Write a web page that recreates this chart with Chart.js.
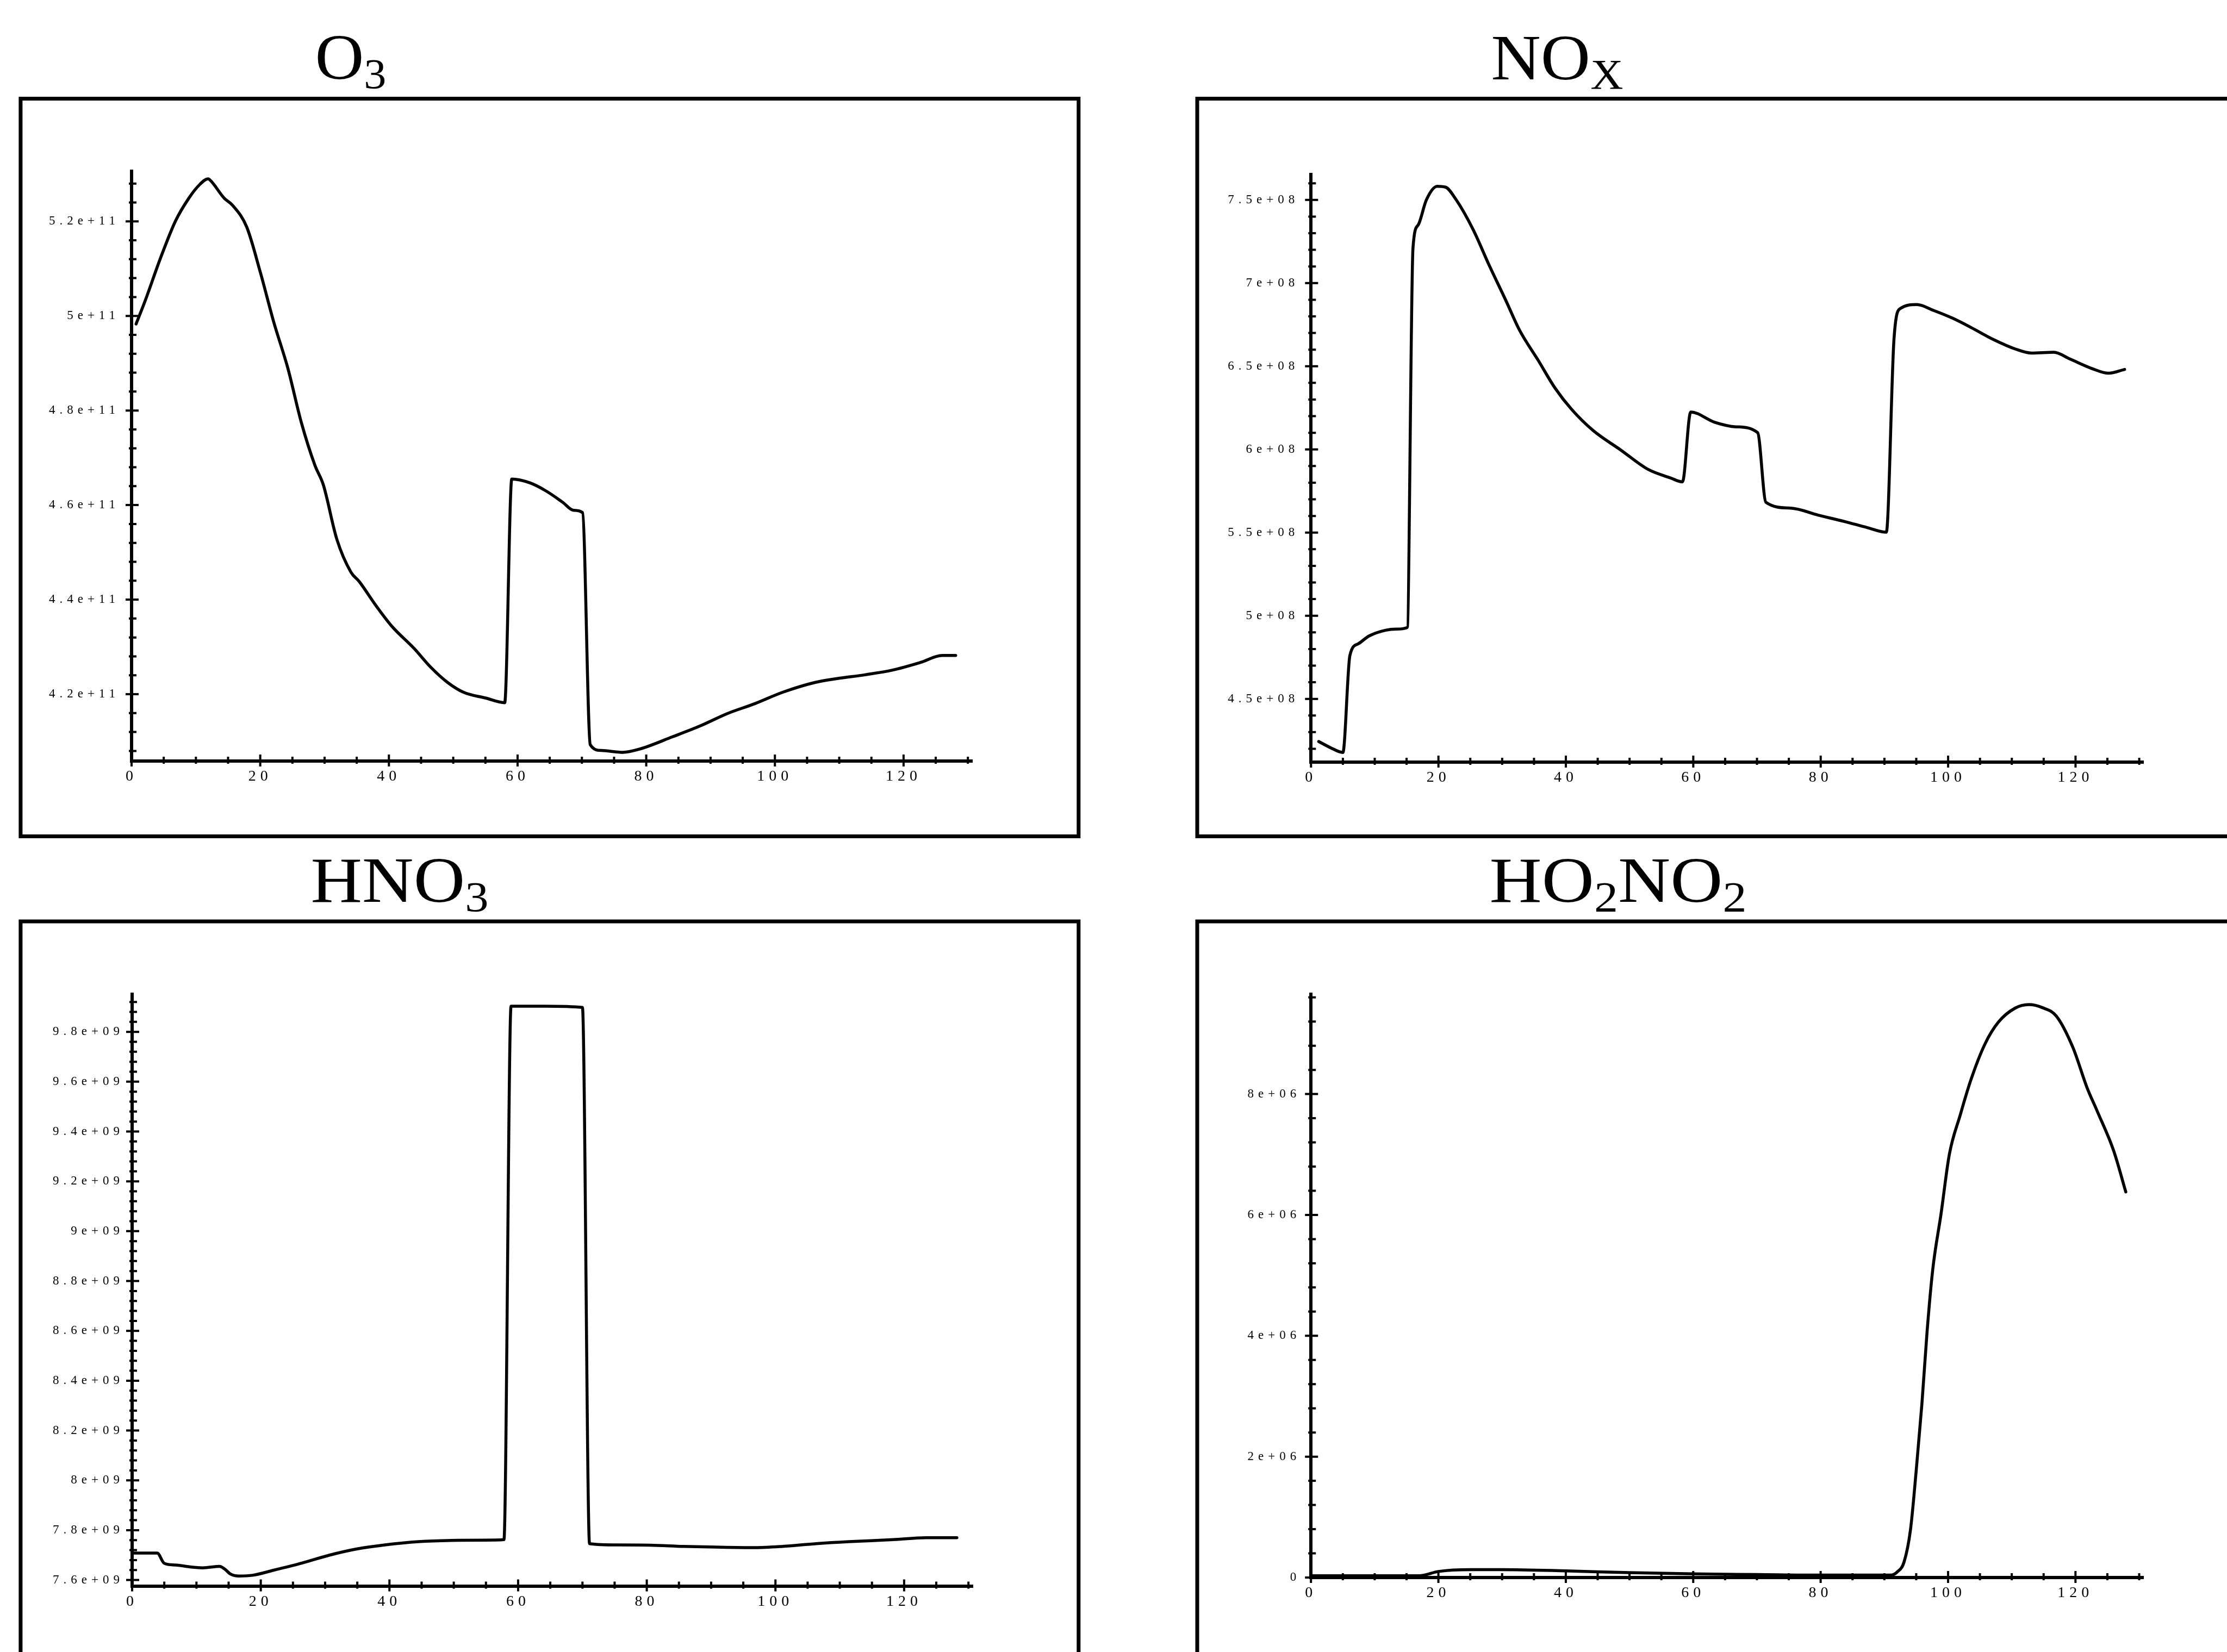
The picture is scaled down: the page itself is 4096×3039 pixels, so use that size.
<!DOCTYPE html>
<html><head><meta charset="utf-8">
<script src="https://cdn.jsdelivr.net/npm/chart.js@4.4.1/dist/chart.umd.min.js"></script>
<style>
html,body{margin:0;padding:0;background:#fff;}
#wrap{position:relative;width:4096px;height:3039px;overflow:hidden;background:#fff;}
canvas{position:absolute;}
</style></head><body><div id="wrap">
<canvas id="cO3"></canvas><canvas id="cNOX"></canvas><canvas id="cHNO3"></canvas><canvas id="cHO2NO2"></canvas>
</div>
<script>
// ---------- DATA ----------
const xTickValues = [0, 20, 40, 60, 80, 100, 120];
const xTickLabels = ['0', '20', '40', '60', '80', '100', '120'];

// O3
const o3X = [0.7, 2, 4.6, 6.8, 8.9, 10.6, 11.9, 12.3, 14.4, 15.7, 17.9, 20, 22.1, 24.3, 26.4, 28.5, 29.8, 31.9, 34.1, 35.4, 37.9, 40.5, 43.9, 46.5, 49.1, 51.6, 55, 58, 59.1, 61.9, 64.4, 67, 68.7, 70.1, 71.3, 73, 76.4, 79, 84.1, 88.4, 92.6, 96.9, 101.2, 106.3, 109.7, 114, 118.3, 122.6, 126, 128.1];
const o3Y = [4.983e11, 5.028e11, 5.126e11, 5.2e11, 5.249e11, 5.278e11, 5.29e11, 5.286e11, 5.249e11, 5.234e11, 5.188e11, 5.093e11, 4.987e11, 4.889e11, 4.774e11, 4.684e11, 4.643e11, 4.528e11, 4.458e11, 4.438e11, 4.389e11, 4.343e11, 4.297e11, 4.257e11, 4.225e11, 4.204e11, 4.192e11, 4.182e11, 4.655e11, 4.647e11, 4.63e11, 4.606e11, 4.589e11, 4.584e11, 4.093e11, 4.081e11, 4.077e11, 4.084e11, 4.11e11, 4.133e11, 4.159e11, 4.18e11, 4.204e11, 4.225e11, 4.233e11, 4.241e11, 4.251e11, 4.267e11, 4.282e11, 4.282e11];
const o3TickValues = [4.2e11, 4.4e11, 4.6e11, 4.8e11, 5e11, 5.2e11];
const o3TickLabels = ['4.2e+11', '4.4e+11', '4.6e+11', '4.8e+11', '5e+11', '5.2e+11'];

// NOx
const noxX = [1.2, 3.1, 5.0, 6.1, 7.4, 9.1, 11.7, 13.4, 15.1, 16.0, 16.8, 18.1, 19.8, 21.1, 22.8, 25.4, 28, 30.6, 32.7, 35.7, 38.3, 40.9, 44.3, 48.6, 52.9, 56.4, 58.3, 59.6, 63.3, 66.7, 70.1, 71.4, 75.3, 79.6, 83.9, 87.3, 90.3, 91.5, 92.5, 95.1, 97.7, 100.7, 103.7, 107.1, 110.6, 113.1, 116.6, 119.1, 122.6, 125.2, 127.7];
const noxY = [4.244e8, 4.206e8, 4.178e8, 4.761e8, 4.831e8, 4.878e8, 4.913e8, 4.92e8, 4.929e8, 7.209e8, 7.348e8, 7.5e8, 7.582e8, 7.577e8, 7.5e8, 7.325e8, 7.104e8, 6.894e8, 6.719e8, 6.533e8, 6.369e8, 6.241e8, 6.113e8, 5.997e8, 5.88e8, 5.829e8, 5.805e8, 6.225e8, 6.164e8, 6.136e8, 6.101e8, 5.682e8, 5.647e8, 5.605e8, 5.565e8, 5.53e8, 5.502e8, 6.661e8, 6.847e8, 6.871e8, 6.836e8, 6.789e8, 6.731e8, 6.661e8, 6.603e8, 6.579e8, 6.584e8, 6.544e8, 6.486e8, 6.458e8, 6.481e8];
const noxTickValues = [4.5e8, 5e8, 5.5e8, 6e8, 6.5e8, 7e8, 7.5e8];
const noxTickLabels = ['4.5e+08', '5e+08', '5.5e+08', '6e+08', '6.5e+08', '7e+08', '7.5e+08'];

// HNO3
const hno3X = [0.3, 3.9, 5.0, 6.7, 11, 13.6, 14.4, 15.3, 16.6, 18.7, 22.1, 26.4, 30.7, 35, 39.3, 44.5, 49.6, 54.8, 57.8, 58.9, 64.2, 70, 71.1, 75.4, 80.5, 85.7, 90.8, 96.8, 101.1, 106.3, 111.4, 118.3, 123.4, 128.2];
const hno3Y = [7.708e9, 7.708e9, 7.667e9, 7.66e9, 7.649e9, 7.655e9, 7.644e9, 7.624e9, 7.616e9, 7.619e9, 7.64e9, 7.668e9, 7.7e9, 7.725e9, 7.741e9, 7.754e9, 7.759e9, 7.76e9, 7.762e9, 9.903e9, 9.903e9, 9.898e9, 7.746e9, 7.741e9, 7.74e9, 7.735e9, 7.732e9, 7.73e9, 7.735e9, 7.746e9, 7.754e9, 7.762e9, 7.77e9, 7.77e9];
const hno3TickValues = [7.6e9, 7.8e9, 8e9, 8.2e9, 8.4e9, 8.6e9, 8.8e9, 9e9, 9.2e9, 9.4e9, 9.6e9, 9.8e9];
const hno3TickLabels = ['7.6e+09', '7.8e+09', '8e+09', '8.2e+09', '8.4e+09', '8.6e+09', '8.8e+09', '9e+09', '9.2e+09', '9.4e+09', '9.6e+09', '9.8e+09'];

// HO2NO2
const ho2no2X = [0.2, 10, 17, 20, 25, 30, 40, 50, 60, 70, 80, 91, 92, 93.1, 94.1, 95, 95.9, 96.7, 97.6, 98.9, 100.2, 101.9, 103.6, 105.8, 107.9, 110.5, 112.7, 114.8, 117, 119.6, 121.8, 123.4, 126, 127.9];
const ho2no2Y = [0.03e6, 0.03e6, 0.03e6, 0.1e6, 0.13e6, 0.13e6, 0.11e6, 0.08e6, 0.06e6, 0.05e6, 0.04e6, 0.04e6, 0.09e6, 0.26e6, 0.79e6, 1.77e6, 2.88e6, 4.06e6, 5.1e6, 6.02e6, 7.0e6, 7.65e6, 8.24e6, 8.83e6, 9.19e6, 9.42e6, 9.48e6, 9.43e6, 9.29e6, 8.77e6, 8.11e6, 7.72e6, 7.06e6, 6.38e6];
const ho2no2TickValues = [0, 2e6, 4e6, 6e6, 8e6];
const ho2no2TickLabels = ['0', '2e+06', '4e+06', '6e+06', '8e+06'];

// ---------- RENDERING ----------
const LS = '8px';
const TICK_FONT = '"Liberation Serif", "DejaVu Serif", serif';

function minorList(min, max, step) {
  const out = [];
  const k0 = Math.ceil(min / step - 1e-9), k1 = Math.floor(max / step + 1e-9);
  for (let k = k0; k <= k1; k++) out.push(k * step);
  return out;
}

function drawFormula(ctx, parts, cx, baseline, targetW) {
  const main = 118, sub = 78, subDrop = 17;
  const fMain = main + 'px "Liberation Serif", "DejaVu Serif", serif';
  const fSub = sub + 'px "Liberation Serif", "DejaVu Serif", serif';
  let total = 0;
  const widths = parts.map(p => { ctx.font = p[1] ? fSub : fMain; const w = ctx.measureText(p[0]).width; total += w; return w; });
  const sx = targetW / total;
  ctx.save();
  ctx.translate(cx, baseline);
  ctx.scale(sx, 1);
  ctx.fillStyle = '#000';
  ctx.textAlign = 'left';
  ctx.textBaseline = 'alphabetic';
  let x = -total / 2;
  parts.forEach((p, i) => {
    ctx.font = p[1] ? fSub : fMain;
    ctx.fillText(p[0], x, p[1] ? subDrop : 0);
    x += widths[i];
  });
  ctx.restore();
}

function makePanelPlugin(cfg) {
  return {
    id: 'panel_' + cfg.id,
    beforeUpdate(chart) { chart.ctx.letterSpacing = LS; },
    beforeDraw(chart) {
      const ctx = chart.ctx;
      ctx.letterSpacing = LS;
      ctx.save();
      ctx.letterSpacing = '0px';
      ctx.fillStyle = '#fff';
      ctx.fillRect(0, 0, chart.width, chart.height);
      ctx.strokeStyle = '#000';
      ctx.lineWidth = 7;
      const b = cfg.box;
      ctx.strokeRect(b[0], b[1], b[2] - b[0], b[3] - b[1]);
      drawFormula(ctx, cfg.title, cfg.titleX, cfg.titleY, cfg.titleW);
      ctx.restore();
    },
    afterDraw(chart) {
      const ctx = chart.ctx, a = chart.chartArea;
      const xs = chart.scales.x, ys = chart.scales.y;
      ctx.save();
      ctx.strokeStyle = '#000';
      ctx.lineWidth = 4;
      ctx.beginPath();
      minorList(cfg.yMin, cfg.yMax, cfg.yMinor).forEach(v => {
        const p = ys.getPixelForValue(v); ctx.moveTo(a.left - 5, p); ctx.lineTo(a.left + 9, p);
      });
      cfg.yTicks.forEach(v => {
        const p = ys.getPixelForValue(v); ctx.moveTo(a.left - 11, p); ctx.lineTo(a.left + 13, p);
      });
      minorList(0, cfg.xMax, 5).forEach(v => {
        const p = xs.getPixelForValue(v); ctx.moveTo(p, a.bottom + 5); ctx.lineTo(p, a.bottom - 8);
      });
      xTickValues.forEach(v => {
        const p = xs.getPixelForValue(v); ctx.moveTo(p, a.bottom + 10); ctx.lineTo(p, a.bottom - 12);
      });
      ctx.stroke();
      ctx.restore();
    }
  };
}

function makeChart(cfg) {
  const canvas = document.getElementById(cfg.id);
  canvas.width = cfg.w; canvas.height = cfg.h;
  canvas.style.left = cfg.x + 'px'; canvas.style.top = cfg.y + 'px';
  canvas.style.width = cfg.w + 'px'; canvas.style.height = cfg.h + 'px';
  const W_Y = 200, H_X = 60;
  new Chart(canvas, {
    type: 'line',
    data: {
      datasets: [{
        data: cfg.xs.map((x, i) => ({ x: x, y: cfg.ys[i] })),
        borderColor: '#000', borderWidth: 5.5, pointRadius: 0, fill: false,
        cubicInterpolationMode: 'monotone', borderJoinStyle: 'round', borderCapStyle: 'round'
      }]
    },
    options: {
      responsive: false, devicePixelRatio: 1, animation: false,
      layout: { padding: { left: cfg.area[0] - W_Y, right: cfg.w - cfg.area[1], top: cfg.area[2], bottom: cfg.h - cfg.area[3] - H_X } },
      plugins: { legend: { display: false }, tooltip: { enabled: false }, title: { display: false } },
      scales: {
        x: {
          type: 'linear', min: 0, max: cfg.xMax,
          afterBuildTicks: s => { s.ticks = xTickValues.map(v => ({ value: v })); },
          afterFit: s => { s.height = H_X; },
          grid: { display: false, drawTicks: false, tickLength: 0 },
          border: { display: true, color: '#000', width: 6 },
          ticks: { autoSkip: false, maxRotation: 0, padding: 12, color: '#000',
                   font: { family: TICK_FONT, size: 28 }, callback: (v, i) => xTickLabels[i] }
        },
        y: {
          type: 'linear', min: cfg.yMin, max: cfg.yMax,
          afterBuildTicks: s => { s.ticks = cfg.yTicks.map(v => ({ value: v })); },
          afterFit: s => { s.width = W_Y; },
          grid: { display: false, drawTicks: false, tickLength: 0 },
          border: { display: true, color: '#000', width: 6 },
          ticks: { autoSkip: false, padding: cfg.yPad, color: '#000',
                   font: { family: TICK_FONT, size: 23 }, callback: (v, i) => cfg.yLabels[i] }
        }
      }
    },
    plugins: [makePanelPlugin(cfg)]
  });
}

makeChart({ id: 'cO3', x: 0, y: 0, w: 2100, h: 1545,
  area: [242, 1788.5, 314.5, 1400], box: [37.9, 181.5, 1983.8, 1538.5],
  xs: o3X, ys: o3Y, xMax: 130.7, yMin: 4.0586e11, yMax: 5.3066e11, yMinor: 0.04e11,
  yTicks: o3TickValues, yLabels: o3TickLabels, yPad: 22,
  title: [['O', 0], ['3', 1]], titleX: 645, titleY: 145, titleW: 131 });

makeChart({ id: 'cNOX', x: 2100, y: 0, w: 1996, h: 1545,
  area: [311.3, 1842.8, 321.3, 1402.1], box: [102, 181.5, 2010, 1538.5],
  xs: noxX, ys: noxY, xMax: 130.7, yMin: 4.1195e8, yMax: 7.652e8, yMinor: 0.1e8,
  yTicks: noxTickValues, yLabels: noxTickLabels, yPad: 22,
  title: [['NO', 0], ['X', 1]], titleX: 764, titleY: 146, titleW: 243 });

makeChart({ id: 'cHNO3', x: 0, y: 1545, w: 2100, h: 1494,
  area: [243, 1789.5, 284.4, 1372.6], box: [37.9, 150, 1983.8, 1530],
  xs: hno3X, ys: hno3Y, xMax: 130.7, yMin: 7.576e9, yMax: 9.95e9, yMinor: 0.04e9,
  yTicks: hno3TickValues, yLabels: hno3TickLabels, yPad: 15,
  title: [['HNO', 0], ['3', 1]], titleX: 735, titleY: 114, titleW: 327 });

makeChart({ id: 'cHO2NO2', x: 2100, y: 1545, w: 1996, h: 1494,
  area: [311.2, 1842.7, 284.4, 1357], box: [102, 150, 2010, 1530],
  xs: ho2no2X, ys: ho2no2Y, xMax: 130.7, yMin: 0, yMax: 9.648e6, yMinor: 0.4e6,
  yTicks: ho2no2TickValues, yLabels: ho2no2TickLabels, yPad: 19,
  title: [['HO', 0], ['2', 1], ['NO', 0], ['2', 1]], titleX: 876, titleY: 114, titleW: 473 });
</script>
</body></html>
